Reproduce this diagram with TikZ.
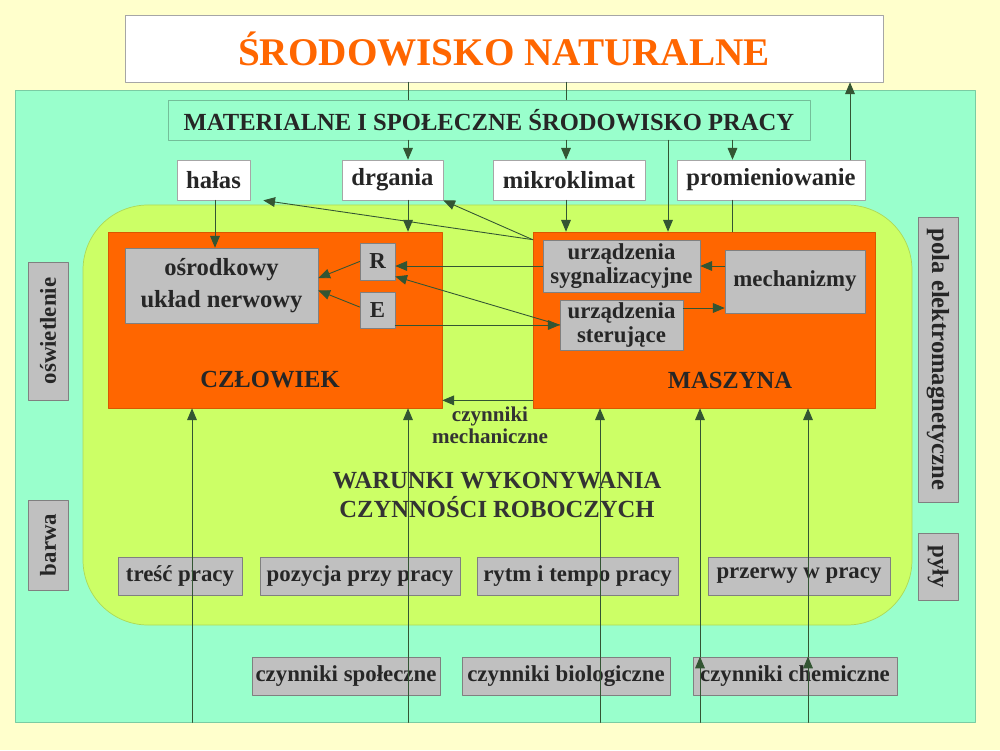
\documentclass[tikz,border=0pt]{standalone}
\usepackage{fontspec}
\setmainfont{Liberation Serif}
\usepackage{tikz}
\usetikzlibrary{arrows}
\definecolor{tlo}{RGB}{255,255,204}
\definecolor{akwa}{RGB}{153,255,204}
\definecolor{limon}{RGB}{204,255,102}
\definecolor{pomar}{RGB}{255,102,0}
\definecolor{szary}{RGB}{192,192,192}
\definecolor{linia}{RGB}{51,85,51}
\newcommand{\ftyt}{\fontsize{22.3}{26}\selectfont\bfseries}
\newcommand{\fsr}{\fontsize{13}{14}\selectfont\bfseries}
\newcommand{\fma}{\fontsize{12}{12.5}\selectfont\bfseries}

\begin{document}
\begin{tikzpicture}[line cap=round,line join=round,>=triangle 45,x=1cm,y=1cm,
  ramka/.style={draw=gray!70, fill=white, inner sep=0pt, font=\fontsize{14}{15}\selectfont\bfseries, text=black!85},
  szara/.style={draw=gray, fill=szary, inner sep=0pt, font=\fsr, text=black!85, align=center},
  pom/.style={draw=pomar!85!black, fill=pomar, inner sep=0pt},
  strz/.style={->, draw=linia, line width=0.5pt},
  lin/.style={draw=linia, line width=0.5pt}]
    \useasboundingbox (0,0) rectangle (20,15);
    \fill[tlo] (0,0) rectangle (20,15);
    \node[draw=akwa!80!black, fill=akwa, inner sep=0pt, minimum width=19.2cm, minimum height=12.64cm] (akw) at (9.9,6.88) {};
    \node[ramka, minimum width=15.16cm, minimum height=1.34cm, font=\ftyt, text=pomar] (sn) at (10.08,14.03) {ŚRODOWISKO NATURALNE};
    \node[draw=akwa!75!black, fill=akwa, inner sep=0pt, minimum width=12.84cm, minimum height=0.8cm, font=\fontsize{14}{15}\selectfont\bfseries, text=black!85] (msp) at (9.78,12.6) {MATERIALNE I SPOŁECZNE ŚRODOWISKO PRACY};
    \node[ramka, minimum width=1.46cm, minimum height=0.8cm] (halas) at (4.27,11.4) {hałas};
    \node[ramka, minimum width=2.02cm, minimum height=0.8cm] (drg) at (7.85,11.4) {drgania};
    \node[ramka, minimum width=3.04cm, minimum height=0.8cm] (mikro) at (11.38,11.4) {mikroklimat};
    \node[ramka, minimum width=3.76cm, minimum height=0.8cm] (prom) at (15.42,11.4) {promieniowanie};
    \node[draw=limon!85!black, fill=limon, rounded corners=1.3cm, minimum width=16.58cm, minimum height=8.4cm] (war) at (9.95,6.7) {};
    \node[pom, minimum width=6.68cm, minimum height=3.52cm] (czl) at (5.5,8.6) {};
    \node[pom, minimum width=6.84cm, minimum height=3.52cm] (masz) at (14.08,8.6) {};
    \node[szara, minimum width=3.86cm, minimum height=1.5cm, font=\fontsize{14}{18}\selectfont\bfseries] (oun) at (4.43,9.29) {ośrodkowy\\układ nerwowy};
    \node[szara, minimum width=0.7cm, minimum height=0.74cm] (R) at (7.55,9.77) {R};
    \node[szara, minimum width=0.7cm, minimum height=0.72cm] (E) at (7.55,8.8) {E};
    \node[szara, minimum width=3.14cm, minimum height=1.04cm] (syg) at (12.43,9.68) {urządzenia\\sygnalizacyjne};
    \node[szara, minimum width=2.8cm, minimum height=1.26cm] (mech) at (15.9,9.37) {mechanizmy};
    \node[szara, minimum width=2.46cm, minimum height=1cm] (ster) at (12.43,8.5) {urządzenia\\sterujące};
    \node[font=\fontsize{14}{16}\selectfont\bfseries, text=black!85] (czlt) at (5.4,7.4) {CZŁOWIEK};
    \node[font=\fontsize{14}{16}\selectfont\bfseries, text=black!85] (maszt) at (14.6,7.4) {MASZYNA};
    \node[font=\fma, text=black!80, align=center] (mecht) at (9.8,6.5) {czynniki\\mechaniczne};
    \node[font=\fontsize{14}{17}\selectfont\bfseries, text=black!80, align=center] (wart) at (9.94,5.1) {WARUNKI WYKONYWANIA\\CZYNNOŚCI ROBOCZYCH};
    \node[szara, minimum width=2.48cm, minimum height=0.76cm] (tresc) at (3.6,3.48) {treść pracy};
    \node[szara, minimum width=4cm, minimum height=0.76cm] (poz) at (7.2,3.48) {pozycja przy pracy};
    \node[szara, minimum width=4.02cm, minimum height=0.76cm] (rytm) at (11.55,3.48) {rytm i tempo pracy};
    \node[szara, minimum width=3.64cm, minimum height=0.76cm] (przer) at (15.98,3.48) {przerwy w pracy};
    \node[szara, minimum width=3.76cm, minimum height=0.76cm] (spol) at (6.92,1.48) {czynniki społeczne};
    \node[szara, minimum width=4.16cm, minimum height=0.76cm] (biol) at (11.32,1.48) {czynniki biologiczne};
    \node[szara, minimum width=4.08cm, minimum height=0.76cm] (chem) at (15.9,1.48) {czynniki chemiczne};
    \node[szara, rotate=90, minimum width=2.76cm, minimum height=0.8cm] (osw) at (0.96,8.38) {oświetlenie};
    \node[szara, rotate=90, minimum width=1.8cm, minimum height=0.8cm] (barwa) at (0.96,4.1) {barwa};
    \node[szara, rotate=-90, minimum width=5.7cm, minimum height=0.8cm, font=\fontsize{14}{15}\selectfont\bfseries] (pole) at (18.76,7.81) {pola elektromagnetyczne};
    \node[szara, rotate=-90, minimum width=1.34cm, minimum height=0.8cm] (pyly) at (18.76,3.67) {pyły};
    \coordinate (xh) at (4.3,0);
    \coordinate (xa) at (8.16,0);
    \coordinate (xb) at (11.32,0);
    \coordinate (xc) at (13.36,0);
    \coordinate (xd) at (14.65,0);
    \coordinate (xe) at (17,0);
    \draw[lin] (sn.south -| xa) -- (msp.north -| xa);
    \draw[lin] (sn.south -| xb) -- (msp.north -| xb);
    \draw[strz] (msp.south -| xa) -- (drg.north -| xa);
    \draw[strz] (msp.south -| xb) -- (mikro.north -| xb);
    \draw[strz] (msp.south -| xd) -- (prom.north -| xd);
    \draw[strz] (msp.south -| xc) -- (masz.north -| xc);
    \draw[strz] (prom.north -| xe) -- (sn.south -| xe);
    \draw[strz] (halas.south -| xh) -- (oun.north -| xh);
    \draw[strz] (drg.south -| xa) -- (czl.north -| xa);
    \draw[strz] (mikro.south -| xb) -- (masz.north -| xb);
    \draw[lin] (prom.south -| xd) -- (masz.north -| xd);
    \coordinate (m0) at ([yshift=-0.16cm]masz.north west);
    \draw[strz] (m0) -- ([xshift=0.26cm]halas.south east);
    \draw[strz] (m0) -- (drg.south east);
    \draw[strz] (syg.west) -- (syg.west -| R.east);
    \coordinate (r1) at ([yshift=-0.3cm]R.east);
    \draw[strz] (ster.west) -- (r1);
    \draw[strz] (ster.west -| E.east) -- (ster.west);
    \draw[strz] (R.west) -- ([yshift=0.15cm]oun.east);
    \draw[strz] ([yshift=0.06cm]E.west) -- ([yshift=-0.1cm]oun.east);
    \draw[strz] (syg.east -| mech.west) -- (syg.east);
    \coordinate (s1) at ([yshift=0.34cm]ster.east);
    \draw[strz] (s1) -- (s1 -| mech.west);
    \coordinate (m1) at ([yshift=0.16cm]masz.south west);
    \draw[strz] (m1) -- (m1 -| czl.east);
    \foreach \x in {3.84,8.16}
        \draw[strz] (akw.south -| \x,0) -- (czl.south -| \x,0);
    \draw[strz] (akw.south -| 12,0) -- (masz.south -| 12,0);
    \foreach \x in {14,16.16} {
        \draw[strz] (akw.south -| \x,0) -- (chem.north -| \x,0);
        \draw[strz] (chem.north -| \x,0) -- (masz.south -| \x,0);
    }
\end{tikzpicture}
\end{document}
